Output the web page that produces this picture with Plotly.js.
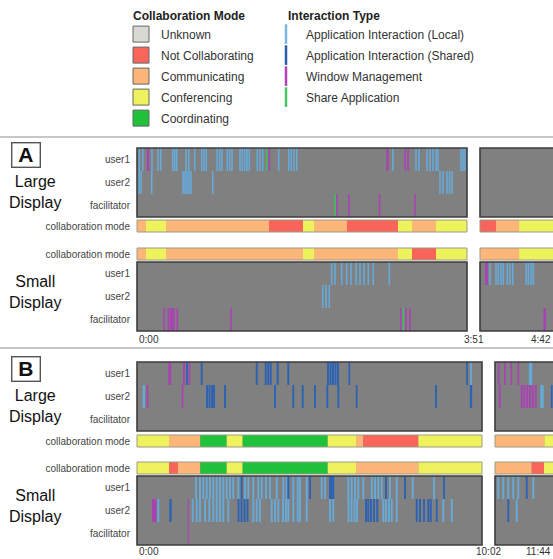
<!DOCTYPE html>
<html><head><meta charset="utf-8">
<script src="https://cdn.plot.ly/plotly-3.0.1.min.js"></script>
<style>html,body{margin:0;padding:0;background:#fff}#chart{width:553px;height:559px}</style>
</head><body><div id="chart"></div>
<script>
// ---------------- DATA (times in seconds) ----------------
const sessionA_break = 231;  // 3:51
const sessionA_view  = 282;  // 4:42
const sessionB_break = 602;  // 10:02
const sessionB_view  = 704;  // 11:44

const modeOrder = ['UNK','NC','COM','CONF','COORD'];
const modeNames = ['Unknown','Not Collaborating','Communicating','Conferencing','Coordinating'];
const typeOrder = ['L','S','W','G'];
const typeNames = ['Application Interaction (Local)','Application Interaction (Shared)','Window Management','Share Application'];
const rowNames  = ['facilitator','user2','user1'];
const stripLabel = 'collaboration mode';

// collaboration mode segments: boundaries (t) and modes (m)
const modeA1_large_t = [0, 6.3, 20.3, 92.4, 116.2, 123.9, 147, 182.7, 192.5, 209.3, 231];
const modeA1_large_m = ['COM','CONF','COM','NC','CONF','COM','NC','CONF','COM','CONF'];
const modeA1_small_t = [0, 6.3, 20.3, 116.2, 123.9, 182.7, 192.5, 209.3, 231];
const modeA1_small_m = ['COM','CONF','COM','CONF','COM','CONF','NC','CONF'];
const modeA2_large_t = [231, 242.2, 258.3, 282];
const modeA2_large_m = ['NC','COM','CONF'];
const modeA2_small_t = [231, 258.3, 282];
const modeA2_small_m = ['COM','CONF'];
const modeB1_large_t = [0, 55.8, 110.5, 156.5, 184.4, 332.8, 382.2, 394.9, 490.9, 602];
const modeB1_large_m = ['CONF','COM','COORD','CONF','COORD','CONF','COM','NC','CONF'];
const modeB1_small_t = [0, 55.8, 71.5, 110.5, 156.5, 184.4, 332.8, 382.2, 490.9, 602];
const modeB1_small_m = ['CONF','NC','COM','COORD','CONF','COORD','CONF','COM','CONF'];
const modeB2_large_t = [602, 688.8, 704];
const modeB2_large_m = ['COM','CONF'];
const modeB2_small_t = [602, 666.6, 688.2, 704];
const modeB2_small_m = ['COM','NC','CONF'];

// interaction events: [time, type, duration(optional)]
const evA1_large_user1 = [[1.6,'L'],[4.0,'L'],[7.7,'W',1.6],[10.5,'L'],[14.7,'L'],[16.6,'L'],[25.0,'L'],[26.4,'L'],[27.8,'L'],[34.3,'L'],[36.2,'L'],[40.4,'L'],[45.3,'L'],[46.9,'L'],[48.5,'L'],[56.2,'L'],[57.9,'L'],[59.5,'L'],[63.2,'L'],[64.9,'L'],[66.5,'L'],[72.1,'L'],[73.7,'L'],[75.4,'L'],[77.0,'L'],[78.6,'L'],[84.2,'L'],[86.1,'L'],[88.0,'L'],[90.7,'G'],[92.6,'W'],[99.2,'L'],[106.2,'L'],[108.0,'L'],[109.9,'L'],[111.8,'L'],[175.4,'W',1.6],[179.2,'L'],[187.6,'W'],[189.7,'W'],[195.3,'L'],[197.4,'L'],[203,'L'],[205.1,'L'],[207.2,'L'],[209.3,'L'],[210.7,'L'],[226.8,'L'],[228.2,'L'],[229.6,'L']];
const evA1_large_user2 = [[1.6,'L'],[3.0,'L'],[10.3,'L'],[32.2,'L'],[33.6,'L'],[35,'L'],[36.4,'L'],[37.8,'L'],[53.0,'L'],[212.1,'L'],[214.2,'L'],[217,'L'],[218.8,'L'],[220.5,'L']];
const evA1_large_facilitator = [[138.6,'G'],[140,'W'],[148.4,'W'],[169.8,'W'],[194.6,'W']];
const evA1_small_user1 = [[136.3,'L'],[138.6,'L'],[143.3,'L'],[146.8,'L'],[149.8,'L'],[153.3,'L'],[156.1,'L'],[158.9,'L'],[161.9,'L'],[165.4,'L'],[176.6,'L']];
const evA1_small_user2 = [[130,'L'],[132.3,'L'],[134.6,'L']];
const evA1_small_facilitator = [[18.9,'W'],[21.9,'W'],[23.6,'W',1.5],[24.7,'W'],[25.9,'W'],[28.2,'W'],[65.8,'W'],[184.6,'W'],[186.4,'G'],[188.3,'W'],[191.1,'W']];
const evA2_large_user1 = [];
const evA2_large_user2 = [];
const evA2_large_facilitator = [];
const evA2_small_user1 = [[235.5,'W',2],[238,'L'],[242.2,'L'],[243.8,'L'],[245.7,'L'],[247.3,'L'],[250.1,'L'],[252,'L'],[253.9,'L'],[263.2,'L'],[264.8,'L'],[266.7,'L'],[268.3,'L']];
const evA2_small_user2 = [];
const evA2_small_facilitator = [[276.2,'W',1.8]];

const evB1_large_user1 = [[57.2,'W',5],[82,'W'],[87.3,'S'],[91.6,'W',3],[112.9,'S'],[208.9,'S'],[224.6,'S'],[229.1,'S'],[233.3,'S'],[245.5,'S'],[264,'S'],[333.3,'S'],[337.7,'S'],[342,'S'],[346.4,'S'],[350.7,'S'],[370.5,'S',3],[575.9,'S',3],[582.8,'L',3]];
const evB1_large_user2 = [[11.9,'L',4],[18.3,'W',3],[79.4,'W',3],[122.2,'S'],[126.5,'S'],[130.9,'S'],[134.4,'S'],[153.6,'S'],[240.8,'S'],[272.7,'S'],[289.1,'S'],[310.6,'S'],[332.1,'S'],[351.3,'S'],[383.3,'S',3],[521.8,'S'],[582.8,'S',4]];
const evB1_large_facilitator = [];
const evB1_small_user1 = [[103,'L'],[109.9,'L'],[115.7,'L'],[121.6,'L'],[127.4,'L'],[133.1,'L'],[139.1,'L'],[144.8,'L'],[150.6,'L'],[156.5,'L'],[162.3,'L'],[168,'L'],[176.8,'L'],[182.7,'S'],[188.5,'L'],[194.2,'L'],[202.9,'L'],[211.7,'L'],[217.6,'L'],[225.1,'L'],[232.1,'L'],[243.8,'L'],[255.3,'L'],[261.2,'L'],[264,'S'],[272.7,'L'],[280.4,'L'],[284.4,'L'],[296.1,'L'],[301.9,'S'],[322.3,'L'],[328.1,'L'],[336.8,'S'],[339.8,'S'],[342.5,'S'],[368.7,'L'],[374.6,'L'],[380.4,'L'],[386.2,'L'],[394.9,'L'],[409.6,'L'],[415.3,'L'],[421.1,'L'],[427,'L'],[434.5,'S'],[441.5,'L'],[453.2,'L'],[467.7,'S'],[481.1,'L'],[518.3,'L'],[535.7,'S']];
const evB1_small_user2 = [[30,'W',8],[37.2,'L'],[58.5,'S',4],[89.5,'W',2],[97.2,'L'],[104.2,'L'],[109.9,'L'],[118.7,'L'],[126.2,'L'],[133.1,'L'],[139.1,'L'],[144.8,'L'],[150.6,'L'],[159.3,'L'],[177.1,'S'],[182.4,'S'],[187.6,'S'],[192.8,'S'],[202.9,'L'],[208.9,'L'],[214.6,'L'],[235,'L'],[240.8,'L'],[246.6,'L'],[254.8,'L'],[260,'L'],[264,'L'],[272.7,'L'],[280.4,'L'],[284.4,'L'],[296.1,'L'],[336.8,'L'],[342.5,'L'],[369,'L'],[374.3,'L'],[379.5,'L'],[383.9,'L'],[399.6,'S'],[403.6,'S'],[408.3,'S'],[413.6,'S'],[419.3,'S'],[429.8,'L'],[434.5,'L'],[439.7,'L'],[444.5,'L'],[453.2,'L'],[488.1,'S'],[493.8,'S'],[500.8,'S'],[508.3,'S'],[512.5,'S'],[523,'S'],[534.5,'L'],[549.2,'L']];
const evB1_small_facilitator = [[89.5,'W',2]];
const evB2_large_user1 = [[608.5,'W',3],[619.6,'W',3],[630.7,'W',3],[643,'W',3],[664.5,'L',6]];
const evB2_large_user2 = [[610.3,'W',3],[649,'W'],[653.6,'W'],[658.8,'W'],[663.6,'W'],[668.4,'W'],[673.6,'W'],[684.7,'L',6],[701.8,'S',3]];
const evB2_large_facilitator = [];
const evB2_small_user1 = [[607.8,'L'],[616.6,'L'],[625.4,'L'],[634.2,'L'],[643,'L'],[657.8,'S'],[669.4,'L']];
const evB2_small_user2 = [[625.4,'S'],[640.2,'L']];
const evB2_small_facilitator = [];

// ---------------- STYLE ----------------
const FONT = 'Liberation Sans, Arial, Helvetica, sans-serif';
const modeColor = {UNK:'#d9d9d3', NC:'#f9645b', COM:'#fdb67a', CONF:'#eef25c', COORD:'#1fc23a'};
const typeColor = {L:'#66aad9', S:'#2a62b5', W:'#a942b2', G:'#3fbf5a'};
const typeLegendColor = {L:'#7ab8e2', S:'#2b5ea8', W:'#b043b8', G:'#45c465'};
const W = 553, H = 559;
const px = v => v / W;
const py = v => 1 - v / H;

function fmt(s){ const m = Math.floor(s/60), r = Math.round(s - m*60); return m + ':' + (r<10?'0':'') + r; }

const cols = [
  {xa:'x',  range:[0, sessionA_break], dom:[137,467], first:true, dflt:1.1,
   rows:{large:[148,217], lstrip:[220,232], sstrip:[248,260], small:[262,331]},
   ev:{large:[evA1_large_facilitator, evA1_large_user2, evA1_large_user1], small:[evA1_small_facilitator, evA1_small_user2, evA1_small_user1]},
   md:{lstrip:[modeA1_large_t, modeA1_large_m], sstrip:[modeA1_small_t, modeA1_small_m]}},
  {xa:'x2', range:[sessionA_break, sessionA_view], dom:[480,553], first:false, dflt:1.1,
   rows:{large:[148,217], lstrip:[220,232], sstrip:[248,260], small:[262,331]},
   ev:{large:[evA2_large_facilitator, evA2_large_user2, evA2_large_user1], small:[evA2_small_facilitator, evA2_small_user2, evA2_small_user1]},
   md:{lstrip:[modeA2_large_t, modeA2_large_m], sstrip:[modeA2_small_t, modeA2_small_m]}},
  {xa:'x3', range:[0, sessionB_break], dom:[137,482], first:true, dflt:3.3,
   rows:{large:[362,431], lstrip:[435,447], sstrip:[462,474], small:[476,545]},
   ev:{large:[evB1_large_facilitator, evB1_large_user2, evB1_large_user1], small:[evB1_small_facilitator, evB1_small_user2, evB1_small_user1]},
   md:{lstrip:[modeB1_large_t, modeB1_large_m], sstrip:[modeB1_small_t, modeB1_small_m]}},
  {xa:'x4', range:[sessionB_break, sessionB_view], dom:[495,553], first:false, dflt:3.3,
   rows:{large:[362,431], lstrip:[435,447], sstrip:[462,474], small:[476,545]},
   ev:{large:[evB2_large_facilitator, evB2_large_user2, evB2_large_user1], small:[evB2_small_facilitator, evB2_small_user2, evB2_small_user1]},
   md:{lstrip:[modeB2_large_t, modeB2_large_m], sstrip:[modeB2_small_t, modeB2_small_m]}}
];

const data = [];
const layout = {
  width: W, height: H, margin:{l:0,r:0,t:0,b:0},
  paper_bgcolor:'#ffffff', plot_bgcolor:'#808080',
  barmode:'overlay', showlegend:true,
  font:{family:FONT, size:10, color:'#444'},
  shapes:[], annotations:[]
};

let yi = 0;
cols.forEach((c, ci) => {
  const xkey = c.xa === 'x' ? 'xaxis' : 'xaxis' + c.xa.slice(1);
  const yFirst = 'y' + (yi+1 === 1 ? '' : (yi+1));
  layout[xkey] = {domain:[px(c.dom[0]), px(c.dom[1])], range:c.range, visible:false, fixedrange:true, anchor: yFirst};
  ['large','lstrip','sstrip','small'].forEach(kind => {
    yi++;
    const ya = yi === 1 ? 'y' : 'y' + yi;
    const ykey = yi === 1 ? 'yaxis' : 'yaxis' + yi;
    const r = c.rows[kind];
    const isPanel = (kind === 'large' || kind === 'small');
    layout[ykey] = {
      domain:[py(r[1]), py(r[0])], anchor:c.xa, fixedrange:true,
      range: isPanel ? [0,3] : [-0.5,0.5],
      showgrid:false, zeroline:false, showline:false,
      visible: c.first,
      tickvals: isPanel ? [0.5,1.5,2.5] : [0],
      ticktext: isPanel ? rowNames : [stripLabel],
      ticks:'outside', ticklen:4, tickcolor:'rgba(0,0,0,0)',
      tickfont:{family:FONT, size:10, color:'#444'}
    };
    if (isPanel) {
      // placeholder so that an empty panel still gets its grey plot area
      data.push({type:'scatter', mode:'markers', x:[null], y:[null], xaxis:c.xa, yaxis:ya, showlegend:false, hoverinfo:'skip'});
      const store = {}; typeOrder.forEach(k => store[k] = {x:[], b:[], w:[]});
      c.ev[kind].forEach((list, rowIdx) => {
        list.forEach(e => { store[e[1]].x.push(e[0]); store[e[1]].b.push(rowIdx); store[e[1]].w.push(e[2] || c.dflt); });
      });
      typeOrder.forEach(k => {
        if (!store[k].x.length) return;
        data.push({type:'bar', x:store[k].x, y:store[k].x.map(()=>1), base:store[k].b, width:store[k].w,
          xaxis:c.xa, yaxis:ya, marker:{color:typeColor[k], line:{width:0}}, showlegend:false, hoverinfo:'skip'});
      });
      layout.shapes.push({type:'rect', xref:c.xa+' domain', yref:ya+' domain', x0:0, x1:c.first?1:1.3, y0:0, y1:1,
        line:{color:'#3d3d3d', width:1.6}, fillcolor:'rgba(0,0,0,0)', layer:'above'});
    } else {
      const t = c.md[kind][0], m = c.md[kind][1];
      data.push({type:'bar', orientation:'h', y:m.map(()=>0), base:t.slice(0,-1), x:m.map((_,i)=>t[i+1]-t[i]), width:1,
        xaxis:c.xa, yaxis:ya, marker:{color:m.map(k=>modeColor[k]), line:{width:0}}, showlegend:false, hoverinfo:'skip'});
      layout.shapes.push({type:'rect', xref:c.xa+' domain', yref:ya+' domain', x0:0, x1:c.first?1:1.3, y0:0, y1:1,
        line:{color:'#9a9a86', width:1}, fillcolor:'rgba(0,0,0,0)', layer:'above'});
    }
  });
});

// legend-only traces
modeOrder.forEach((k,i) => data.push({type:'scatter', mode:'markers', x:[null], y:[null], xaxis:'x', yaxis:'y',
  name:modeNames[i], legend:'legend', legendgroup:'m'+k,
  marker:{symbol:'square', size:16, color:modeColor[k], line:{color:'#666', width:1}}, hoverinfo:'skip'}));
typeOrder.forEach((k,i) => data.push({type:'scatter', mode:'markers', x:[null], y:[null], xaxis:'x', yaxis:'y',
  name:typeNames[i], legend:'legend2', legendgroup:'t'+k,
  marker:{symbol:'line-ns-open', size:14, color:typeLegendColor[k], line:{color:typeLegendColor[k], width:2.5}}, hoverinfo:'skip'}));

const legBase = {xanchor:'left', yanchor:'top', bgcolor:'rgba(0,0,0,0)', borderwidth:0,
  font:{family:FONT, size:12, color:'#333'}, traceorder:'grouped', tracegroupgap:2, itemclick:false};
layout.legend  = Object.assign({}, legBase, {x:px(121), y:py(4), title:{text:'&nbsp;&nbsp;&nbsp;<b>Collaboration Mode</b>', font:{family:FONT,size:12,color:'#222'}}});
layout.legend2 = Object.assign({}, legBase, {x:px(266), y:py(4), title:{text:'&nbsp;&nbsp;&nbsp;&nbsp;&nbsp;&nbsp;<b>Interaction Type</b>', font:{family:FONT,size:12,color:'#222'}}});

// separators
[137, 348].forEach(y => layout.shapes.push({type:'line', xref:'paper', yref:'paper', x0:0, x1:1, y0:py(y), y1:py(y), line:{color:'#c6c6c6', width:2}}));

// section letters & display labels
const ann = layout.annotations;
[['A',155],['B',369]].forEach(([t,y]) => ann.push({xref:'paper', yref:'paper', x:px(26), y:py(y), xanchor:'center', yanchor:'middle',
  text:'<b>'+t+'</b>', showarrow:false,
  font:{family:FONT, size:21, color:'#111'}, width:25, height:21, borderpad:1, bordercolor:'#555', borderwidth:1.4, bgcolor:'#fff'}));
[['Large<br>Display',191.5],['Small<br>Display',291.5],['Large<br>Display',406],['Small<br>Display',506]].forEach(([t,y]) =>
  ann.push({xref:'paper', yref:'paper', x:px(35), y:py(y), xanchor:'center', yanchor:'middle', text:t, showarrow:false,
    font:{family:FONT, size:16, color:'#111'}, align:'center'}));

// time labels
const tl = {showarrow:false, yref:'paper', yanchor:'middle', font:{family:FONT, size:10, color:'#333'}};
ann.push(Object.assign({}, tl, {xref:'x',  x:0, y:py(339), xanchor:'left', text:fmt(0)}));
ann.push(Object.assign({}, tl, {xref:'x',  x:sessionA_break, xshift:6.5, y:py(339), xanchor:'center', text:fmt(sessionA_break)}));
ann.push(Object.assign({}, tl, {xref:'x2', x:sessionA_view, y:py(339), xanchor:'right', text:fmt(sessionA_view)}));
ann.push(Object.assign({}, tl, {xref:'x3', x:0, y:py(551), xanchor:'left', text:fmt(0)}));
ann.push(Object.assign({}, tl, {xref:'x3', x:sessionB_break, xshift:6.5, y:py(551), xanchor:'center', text:fmt(sessionB_break)}));
ann.push(Object.assign({}, tl, {xref:'x4', x:sessionB_view, y:py(551), xanchor:'right', text:fmt(sessionB_view)}));

Plotly.newPlot('chart', data, layout, {displayModeBar:false, staticPlot:true});
</script></body></html>
